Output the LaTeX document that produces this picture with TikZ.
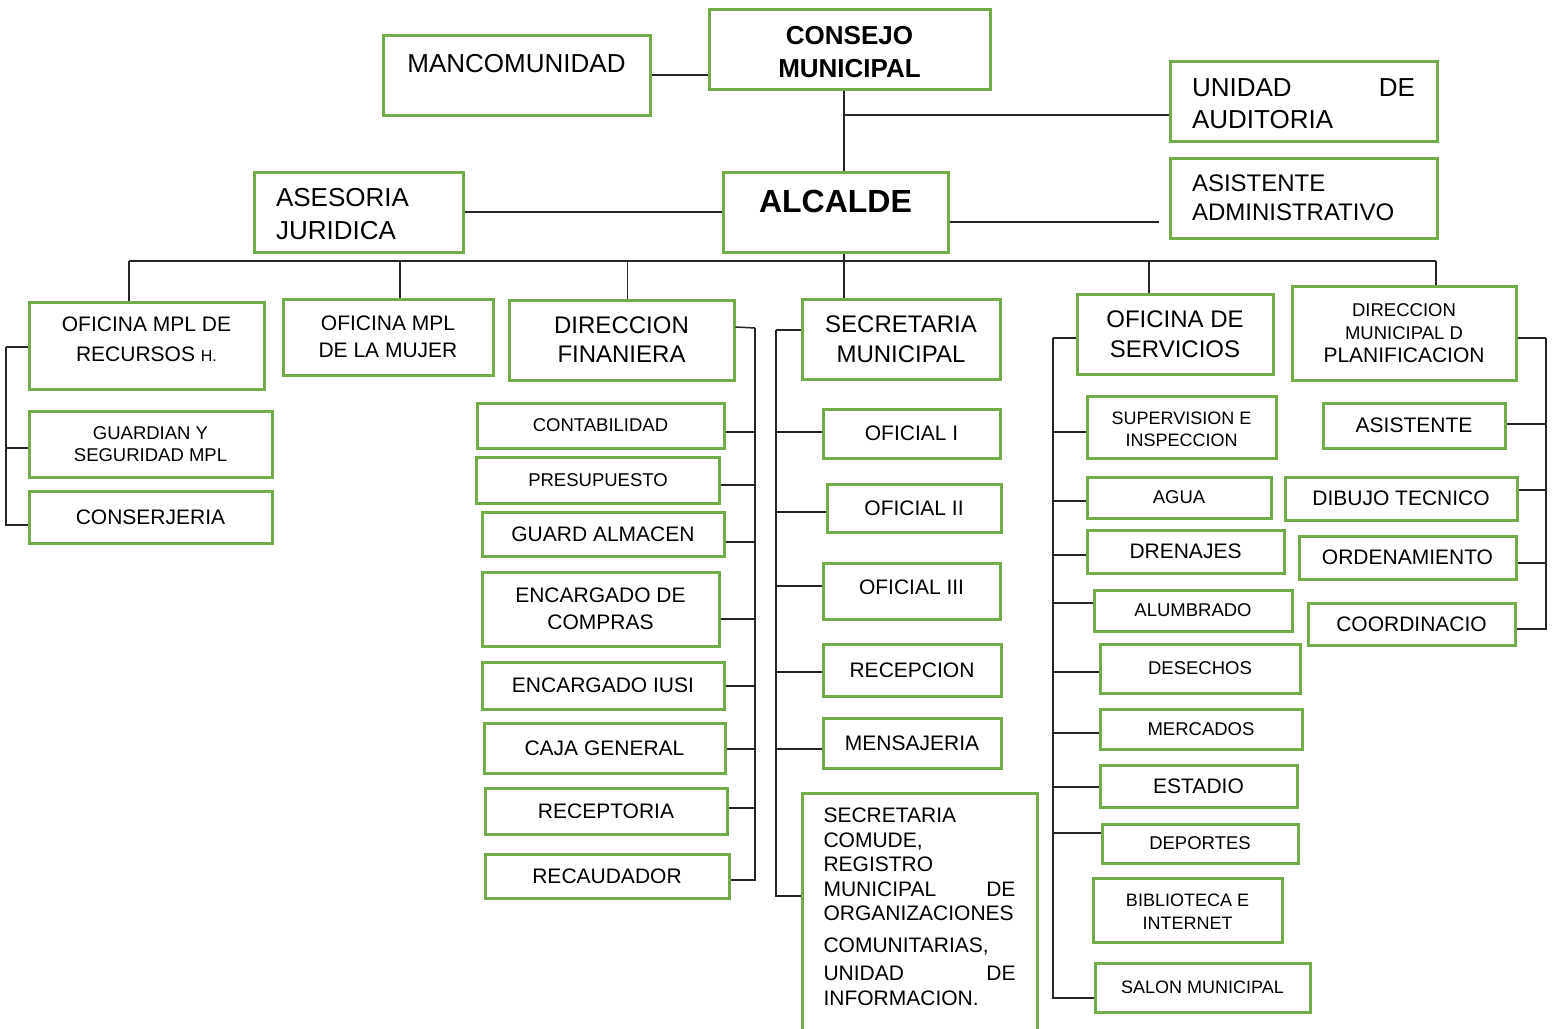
\documentclass[tikz,border=0pt]{standalone}
\usepackage{fontspec}
\setmainfont{Liberation Sans}
\definecolor{boxgreen}{RGB}{112,173,71}
\newcommand{\boxfont}[2]{\fontsize{#1}{#2}\selectfont}
\newcommand{\boxtext}[4]{\parbox[c][#1][t]{#2}{\vspace*{#3}#4}}

\begin{document}
\begin{tikzpicture}[x=1pt, y=-1pt,
	orgbox/.style={draw=boxgreen, line width=3pt, inner sep=0pt, align=center},
	conn/.style={draw=black!85, line width=1.5pt}]
	\useasboundingbox (0,0) rectangle (1555,1028);

	\node[orgbox, minimum width=281pt, minimum height=80pt, font=\boxfont{26}{33}\bfseries] (CM) at (849.5,49) {\boxtext{80pt}{281pt}{17.4pt}{\centering CONSEJO\\MUNICIPAL}};
	\node[orgbox, minimum width=267pt, minimum height=80pt, text height=37pt, text depth=43pt, font=\boxfont{26}{31}] (MC) at (516.5,75) {MANCOMUNIDAD};
	\node[orgbox, minimum width=267pt, minimum height=80pt, font=\boxfont{26}{32}] (UA) at (1303.5,101) {\boxtext{80pt}{223pt}{17.4pt}{UNIDAD \hfill DE\\AUDITORIA}};
	\node[orgbox, minimum width=267pt, minimum height=80pt, text width=223pt, align=left, font=\boxfont{24}{29}] (AA) at (1303.5,198) {ASISTENTE\\ADMINISTRATIVO};
	\node[orgbox, minimum width=225pt, minimum height=80pt, text height=40pt, text depth=40pt, font=\boxfont{32}{38}\bfseries] (AL) at (835.5,212) {ALCALDE};
	\node[orgbox, minimum width=209pt, minimum height=80pt, font=\boxfont{26}{33}] (AJ) at (358.5,212) {\boxtext{80pt}{165pt}{16.4pt}{ASESORIA\\JURIDICA}};

	\node[orgbox, minimum width=235pt, minimum height=87pt, font=\boxfont{21}{30}] (RH) at (146.5,345.5) {\boxtext{87pt}{235pt}{15pt}{\centering OFICINA MPL DE\\RECURSOS {\boxfont{16}{16}H.}}};
	\node[orgbox, minimum width=210pt, minimum height=76pt, font=\boxfont{21}{27}] (OM) at (388,337) {OFICINA MPL\\DE LA MUJER};
	\node[orgbox, minimum width=225pt, minimum height=80pt, font=\boxfont{24}{29}] (DF) at (621.5,340) {DIRECCION\\FINANIERA};
	\node[orgbox, minimum width=198pt, minimum height=80pt, font=\boxfont{24}{30}] (SM) at (901,339) {SECRETARIA\\MUNICIPAL};
	\node[orgbox, minimum width=196pt, minimum height=80pt, font=\boxfont{24}{30}] (OS) at (1175,334) {OFICINA DE\\SERVICIOS};
	\node[orgbox, minimum width=224pt, minimum height=94pt, font=\boxfont{18.5}{23}] (DP) at (1404,333) {DIRECCION\\MUNICIPAL D\\{\boxfont{21}{25}PLANIFICACION}};

	\node[orgbox, minimum width=243pt, minimum height=66pt, font=\boxfont{18.5}{22}] (GS) at (150.5,444) {GUARDIAN Y\\SEGURIDAD MPL};
	\node[orgbox, minimum width=243pt, minimum height=52pt, font=\boxfont{21}{25}] (CJ) at (150.5,517) {CONSERJERIA};

	\node[orgbox, minimum width=247pt, minimum height=45pt, font=\boxfont{18.5}{22}] (CO) at (600.5,425.5) {CONTABILIDAD};
	\node[orgbox, minimum width=243pt, minimum height=46pt, font=\boxfont{18.5}{22}] (PR) at (598,480) {PRESUPUESTO};
	\node[orgbox, minimum width=242pt, minimum height=44pt, font=\boxfont{21}{25}] (GA) at (603,534) {GUARD ALMACEN};
	\node[orgbox, minimum width=237pt, minimum height=74pt, font=\boxfont{21}{27}] (EC) at (600.5,609) {ENCARGADO DE\\COMPRAS};
	\node[orgbox, minimum width=242pt, minimum height=47pt, font=\boxfont{21}{25}] (EI) at (603,685.5) {ENCARGADO IUSI};
	\node[orgbox, minimum width=241pt, minimum height=50pt, font=\boxfont{21}{25}] (CG) at (604.5,748) {CAJA GENERAL};
	\node[orgbox, minimum width=242pt, minimum height=46pt, font=\boxfont{21}{25}] (RC) at (606,811) {RECEPTORIA};
	\node[orgbox, minimum width=244pt, minimum height=44pt, font=\boxfont{21}{25}] (RD) at (607,876) {RECAUDADOR};

	\node[orgbox, minimum width=177pt, minimum height=49pt, font=\boxfont{21}{25}] (O1) at (911.5,433.5) {OFICIAL I};
	\node[orgbox, minimum width=174pt, minimum height=48pt, font=\boxfont{21}{25}] (O2) at (914,508) {OFICIAL II};
	\node[orgbox, minimum width=177pt, minimum height=56pt, text height=31pt, text depth=25pt, font=\boxfont{21}{25}] (O3) at (911.5,591) {OFICIAL III};
	\node[orgbox, minimum width=178pt, minimum height=52pt, font=\boxfont{21}{25}] (RE) at (912,670) {RECEPCION};
	\node[orgbox, minimum width=178pt, minimum height=50pt, font=\boxfont{21}{25}] (ME) at (912,743) {MENSAJERIA};
	\node[orgbox, minimum width=235pt, minimum height=241pt, font=\boxfont{21}{24.5}] (SC) at (919.5,913.5) {\boxtext{241pt}{192pt}{15pt}{SECRETARIA\\COMUDE,\\REGISTRO\\MUNICIPAL \hfill DE\\ORGANIZACIONES\\[7.5pt]COMUNITARIAS,\\[3.5pt]UNIDAD \hfill DE\\INFORMACION.}};

	\node[orgbox, minimum width=189pt, minimum height=62pt, font=\boxfont{18}{22}] (SI) at (1181.5,427) {\boxtext{62pt}{189pt}{16pt}{\centering SUPERVISION E\\INSPECCION}};
	\node[orgbox, minimum width=184pt, minimum height=41pt, font=\boxfont{18.5}{22}] (AG) at (1179,497.5) {AGUA};
	\node[orgbox, minimum width=197pt, minimum height=43pt, font=\boxfont{21}{25}] (DR) at (1185.5,551.5) {DRENAJES};
	\node[orgbox, minimum width=198pt, minimum height=41pt, font=\boxfont{18.5}{22}] (AB) at (1193,610.5) {ALUMBRADO};
	\node[orgbox, minimum width=200pt, minimum height=49pt, font=\boxfont{18.5}{22}] (DS) at (1200,668.5) {DESECHOS};
	\node[orgbox, minimum width=202pt, minimum height=40pt, font=\boxfont{18.5}{22}] (MR) at (1201,729) {MERCADOS};
	\node[orgbox, minimum width=197pt, minimum height=42pt, font=\boxfont{21}{25}] (ES) at (1198.5,786) {ESTADIO};
	\node[orgbox, minimum width=196pt, minimum height=39pt, font=\boxfont{18.5}{22}] (DE) at (1200,843.5) {DEPORTES};
	\node[orgbox, minimum width=189pt, minimum height=64pt, font=\boxfont{18}{23}] (BI) at (1187.5,910) {\boxtext{64pt}{189pt}{16pt}{\centering BIBLIOTECA E\\INTERNET}};
	\node[orgbox, minimum width=215pt, minimum height=49pt, font=\boxfont{18}{22}] (SA) at (1202.5,987.5) {SALON MUNICIPAL};

	\node[orgbox, minimum width=182pt, minimum height=45pt, font=\boxfont{21}{25}] (AS) at (1414,425.5) {ASISTENTE};
	\node[orgbox, minimum width=232pt, minimum height=43pt, font=\boxfont{21}{25}] (DT) at (1401,498.5) {DIBUJO TECNICO};
	\node[orgbox, minimum width=217pt, minimum height=43pt, font=\boxfont{21}{25}] (OR) at (1407.5,557.5) {ORDENAMIENTO};
	\node[orgbox, minimum width=207pt, minimum height=42pt, font=\boxfont{21}{25}] (CD) at (1411.5,624) {COORDINACIO};

	\coordinate (AX) at (1159,222);
	\coordinate (BL) at (129,261);
	\coordinate (BR) at (1436,261);
	\coordinate (RB) at (6,347);
	\coordinate (FB) at (755,328);
	\coordinate (SB) at (776,330);
	\coordinate (VB) at (1053,338);
	\coordinate (PB) at (1546,338);

	\draw[conn] (MC.east) -- (MC.east -| CM.west);
	\draw[conn] ([xshift=-5.5pt]CM.south) -- ([xshift=8.5pt]AL.north);
	\draw[conn] ([yshift=-14pt]UA.west) -| ([xshift=-5.5pt]CM.south);
	\draw[conn] (AJ.east) -- (AL.west);
	\draw[conn] ([yshift=-10pt]AL.east) -- (AX);
	\draw[conn] ([xshift=8.5pt]AL.south) -- ([xshift=-57pt]SM.north);

	\draw[conn] (BL) -- (BR);
	\draw[conn] (BL) -- ([xshift=-17.5pt]RH.north);
	\draw[conn] ([xshift=12pt]OM.north) |- (BL);
	\draw[conn] ([xshift=6pt]DF.north) |- (BL);
	\draw[conn] ([xshift=-26pt]OS.north) |- (BR);
	\draw[conn] ([xshift=32pt]DP.north) -- (BR);

	\draw[conn] ([yshift=-1.5pt]RH.west) -- (RB);
	\draw[conn] (RB) |- ([yshift=-4pt]GS.west);
	\draw[conn] (RB) |- ([yshift=-8pt]CJ.west);

	\draw[conn] ([yshift=13pt]DF.east) -- (FB);
	\draw[conn] (FB) |- ([yshift=-6.5pt]CO.east);
	\draw[conn] (FB) |- ([yshift=-5pt]PR.east);
	\draw[conn] (FB) |- ([yshift=-8pt]GA.east);
	\draw[conn] (FB) |- ([yshift=-10pt]EC.east);
	\draw[conn] (FB) |- ([yshift=-0.5pt]EI.east);
	\draw[conn] (FB) |- ([yshift=-1pt]CG.east);
	\draw[conn] (FB) |- ([yshift=3pt]RC.east);
	\draw[conn] (FB) |- ([yshift=-4pt]RD.east);

	\draw[conn] ([yshift=9pt]SM.west) -- (SB);
	\draw[conn] (SB) |- ([yshift=1.5pt]O1.west);
	\draw[conn] (SB) |- ([yshift=-4pt]O2.west);
	\draw[conn] (SB) |- ([yshift=5pt]O3.west);
	\draw[conn] (SB) |- ([yshift=-2pt]RE.west);
	\draw[conn] (SB) |- ([yshift=-6pt]ME.west);
	\draw[conn] (SB) |- ([yshift=17.5pt]SC.west);

	\draw[conn] ([yshift=-4pt]OS.west) -- (VB);
	\draw[conn] (VB) |- ([yshift=-5pt]SI.west);
	\draw[conn] (VB) |- ([yshift=-3.5pt]AG.west);
	\draw[conn] (VB) |- ([yshift=-3.5pt]DR.west);
	\draw[conn] (VB) |- ([yshift=7.5pt]AB.west);
	\draw[conn] (VB) |- ([yshift=-3.5pt]DS.west);
	\draw[conn] (VB) |- ([yshift=-4pt]MR.west);
	\draw[conn] (VB) |- ([yshift=-1pt]ES.west);
	\draw[conn] (VB) |- ([yshift=10.5pt]DE.west);
	\draw[conn] (VB) |- ([yshift=-10.5pt]SA.west);

	\draw[conn] ([yshift=-5pt]DP.east) -- (PB);
	\draw[conn] (PB) |- ([yshift=1.5pt]AS.east);
	\draw[conn] (PB) |- ([yshift=8.5pt]DT.east);
	\draw[conn] (PB) |- ([yshift=-5.5pt]OR.east);
	\draw[conn] (PB) |- ([yshift=-5pt]CD.east);
\end{tikzpicture}
\end{document}
